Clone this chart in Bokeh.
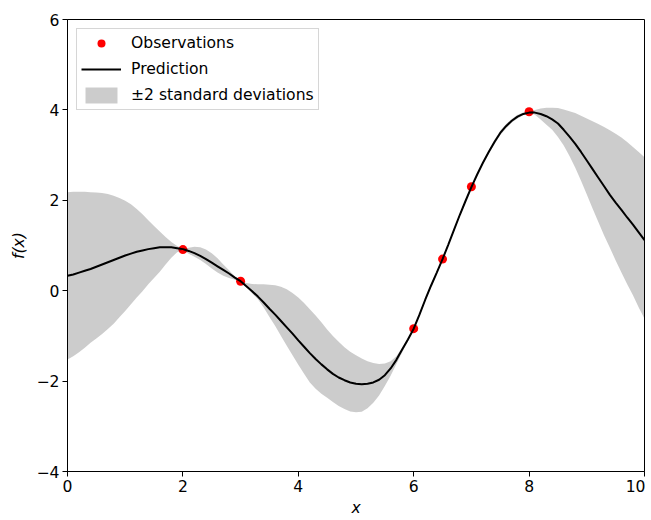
from bokeh.plotting import figure
from bokeh.models import ColumnDataSource, Range1d, FixedTicker, Legend, LegendItem
from bokeh.embed import file_html
from bokeh.resources import INLINE

# Observations
obs_x = [2.0, 3.0, 6.0, 6.5, 7.0, 8.0]
obs_y = [0.91, 0.21, -0.84, 0.70, 2.30, 3.96]

# Prediction and band on a 0.1 grid (x = 0.0 ... 10.0)
grid_x = [i / 10 for i in range(101)]
pred_mean = [
    0.33, 0.36, 0.40, 0.44, 0.48, 0.53, 0.58, 0.63, 0.68, 0.73,
    0.78, 0.82, 0.86, 0.89, 0.92, 0.94, 0.96, 0.96, 0.96, 0.94,
    0.92, 0.88, 0.83, 0.77, 0.70, 0.62, 0.54, 0.46, 0.38, 0.29,
    0.21, 0.10, -0.01, -0.13, -0.26, -0.40, -0.53, -0.67, -0.81, -0.95,
    -1.10, -1.24, -1.38, -1.51, -1.63, -1.74, -1.84, -1.92, -1.98, -2.03,
    -2.06, -2.07, -2.06, -2.03, -1.97, -1.87, -1.72, -1.53, -1.30, -1.08,
    -0.84, -0.53, -0.20, 0.11, 0.40, 0.70, 1.02, 1.35, 1.68, 1.99,
    2.29, 2.57, 2.83, 3.07, 3.29, 3.49, 3.64, 3.76, 3.85, 3.91,
    3.94, 3.94, 3.91, 3.86, 3.79, 3.70, 3.56, 3.41, 3.25, 3.07,
    2.88, 2.69, 2.50, 2.31, 2.12, 1.95, 1.79, 1.62, 1.46, 1.29,
    1.12]
band_lower = [
    -1.52, -1.45, -1.36, -1.26, -1.15, -1.06, -0.96, -0.85, -0.73, -0.59,
    -0.45, -0.30, -0.15, -0.01, 0.14, 0.28, 0.42, 0.58, 0.73, 0.85,
    0.90, 0.82, 0.75, 0.68, 0.59, 0.49, 0.40, 0.33, 0.28, 0.24,
    0.19, 0.08, -0.06, -0.19, -0.37, -0.58, -0.78, -1.00, -1.22, -1.43,
    -1.64, -1.84, -2.03, -2.17, -2.28, -2.37, -2.46, -2.55, -2.62, -2.67,
    -2.69, -2.68, -2.60, -2.48, -2.32, -2.11, -1.88, -1.62, -1.37, -1.12,
    -0.85, -0.56, -0.24, 0.07, 0.37, 0.69, 1.00, 1.32, 1.65, 1.97,
    2.28, 2.55, 2.80, 3.03, 3.24, 3.44, 3.59, 3.72, 3.81, 3.88,
    3.93, 3.89, 3.79, 3.67, 3.56, 3.40, 3.21, 2.98, 2.72, 2.43,
    2.13, 1.82, 1.52, 1.22, 0.95, 0.67, 0.40, 0.14, -0.10, -0.37,
    -0.62]
band_upper = [
    2.18, 2.19, 2.19, 2.19, 2.18, 2.17, 2.16, 2.14, 2.10, 2.05,
    1.99, 1.91, 1.81, 1.69, 1.56, 1.43, 1.31, 1.19, 1.08, 0.99,
    0.93, 0.95, 0.97, 0.96, 0.91, 0.83, 0.72, 0.58, 0.45, 0.32,
    0.22, 0.17, 0.15, 0.14, 0.14, 0.13, 0.12, 0.09, 0.03, -0.05,
    -0.15, -0.27, -0.41, -0.55, -0.70, -0.86, -1.00, -1.13, -1.25, -1.35,
    -1.43, -1.50, -1.56, -1.60, -1.62, -1.61, -1.56, -1.45, -1.26, -1.06,
    -0.83, -0.50, -0.16, 0.15, 0.43, 0.71, 1.04, 1.38, 1.71, 2.01,
    2.30, 2.59, 2.86, 3.11, 3.34, 3.54, 3.69, 3.80, 3.89, 3.94,
    3.95, 4.00, 4.03, 4.05, 4.05, 4.04, 4.01, 3.97, 3.93, 3.87,
    3.81, 3.75, 3.69, 3.62, 3.55, 3.47, 3.39, 3.29, 3.18, 3.07,
    2.95]

x_ticks = [0, 2, 4, 6, 8, 10]
y_ticks = [-4, -2, 0, 2, 4, 6]
y_tick_labels = {-4: "\u22124", -2: "\u22122", 0: "0", 2: "2", 4: "4", 6: "6"}
x_tick_labels = {0: "0", 2: "2", 4: "4", 6: "6", 8: "8", 10: "10"}

FONT = "DejaVu Sans"
FS = "15.6px"

p = figure(width=645, height=519, output_backend="svg", toolbar_location=None,
           x_range=Range1d(0, 10), y_range=Range1d(-4, 6),
           min_border_left=67, min_border_right=1, min_border_top=19,
           min_border_bottom=47)
p.xgrid.visible = False
p.ygrid.visible = False
p.outline_line_color = "black"
p.outline_line_width = 1
p.background_fill_color = "white"
p.border_fill_color = "white"

obs_src = ColumnDataSource(dict(x=obs_x, y=obs_y))
pred_src = ColumnDataSource(dict(x=grid_x, m=pred_mean, lo=band_lower, hi=band_upper))

r_obs = p.scatter("x", "y", source=obs_src, size=9, color="red", line_color=None)
r_pred = p.line("x", "m", source=pred_src, line_color="black", line_width=2)
r_band = p.varea(x="x", y1="lo", y2="hi", source=pred_src,
                 fill_color="black", fill_alpha=0.2)

for ax in (p.xaxis[0], p.yaxis[0]):
    ax.axis_line_color = "black"
    ax.major_tick_line_color = "black"
    ax.minor_tick_line_color = None
    ax.major_tick_in = 0
    ax.major_tick_out = 5
    ax.major_label_text_font = FONT
    ax.major_label_text_font_size = FS
    ax.major_label_text_color = "black"
    ax.axis_label_text_font = FONT
    ax.axis_label_text_font_size = FS
    ax.axis_label_text_font_style = "italic"
    ax.axis_label_text_color = "black"

p.xaxis[0].ticker = FixedTicker(ticks=x_ticks)
p.yaxis[0].ticker = FixedTicker(ticks=y_ticks)
p.xaxis[0].major_label_overrides = x_tick_labels
p.yaxis[0].major_label_overrides = y_tick_labels
p.xaxis[0].axis_label = "x"
p.yaxis[0].axis_label = "f(x)"
p.xaxis[0].major_label_standoff = 3
p.xaxis[0].axis_label_standoff = 4
p.yaxis[0].major_label_standoff = 3
p.yaxis[0].axis_label_standoff = 6

legend = Legend(items=[
    LegendItem(label="Observations", renderers=[r_obs]),
    LegendItem(label="Prediction", renderers=[r_pred]),
    LegendItem(label="\u00b12 standard deviations", renderers=[r_band]),
], location="top_left")
legend.margin = 9
legend.padding = 4
legend.spacing = 6
legend.glyph_width = 40
legend.glyph_height = 20
legend.label_height = 20
legend.label_standoff = 10
legend.label_text_font = FONT
legend.label_text_font_size = FS
legend.label_text_color = "black"
legend.border_line_color = "#cccccc"
legend.border_line_alpha = 0.8
legend.border_line_width = 1
legend.background_fill_color = "white"
legend.background_fill_alpha = 0.8
p.add_layout(legend)

open("out.html", "w").write(file_html(p, INLINE))
